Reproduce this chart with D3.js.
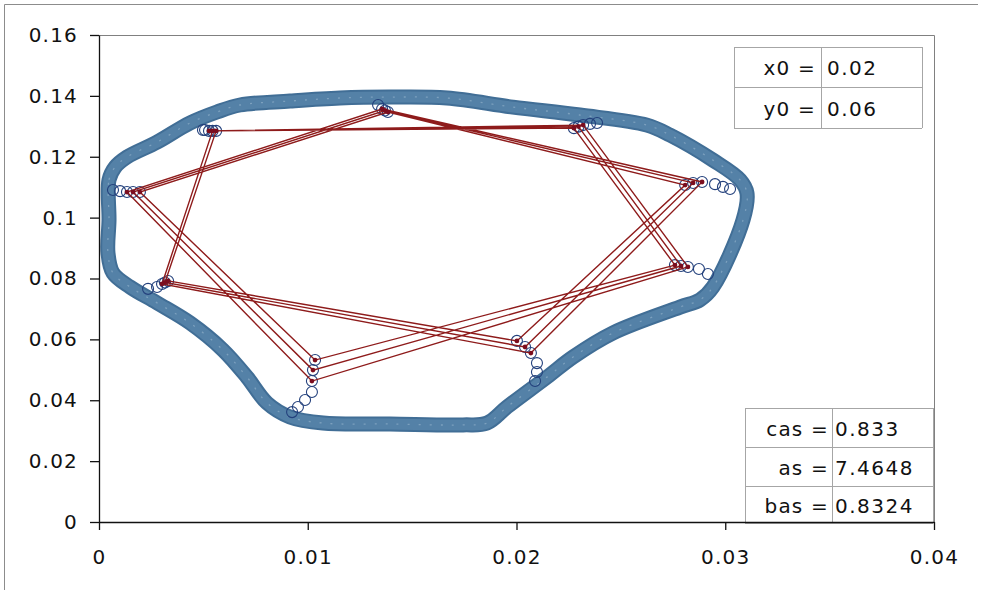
<!DOCTYPE html>
<html>
<head>
<meta charset="utf-8">
<script src="https://cdn.jsdelivr.net/npm/d3@7"></script>
<style>
  html, body { margin: 0; padding: 0; background: #fff; }
  svg { display: block; }
  text { font-family: "DejaVu Sans", Verdana, sans-serif; fill: #111; }
</style>
</head>
<body>
<svg id="chart" width="985" height="590"></svg>
<script>
// ---- data ----
const xTicks = [0, 0.01, 0.02, 0.03, 0.04];
const xTickLabels = ["0", "0.01", "0.02", "0.03", "0.04"];
const yTicks = [0, 0.02, 0.04, 0.06, 0.08, 0.1, 0.12, 0.14, 0.16];
const yTickLabels = ["0", "0.02", "0.04", "0.06", "0.08", "0.1", "0.12", "0.14", "0.16"];

// boundary ring (dense marker band), clockwise from the left side
const ringPoints = [
  [0.00048, 0.0992], [0.00048, 0.1124], [0.00077, 0.1166], [0.00134, 0.1199],
  [0.00278, 0.1248], [0.00436, 0.1311], [0.00565, 0.1347], [0.00675, 0.1370],
  [0.00915, 0.1383], [0.01154, 0.1393], [0.01394, 0.1396], [0.01667, 0.1393],
  [0.01983, 0.1363], [0.02304, 0.1337], [0.02625, 0.1304], [0.02736, 0.1271],
  [0.02941, 0.1189], [0.03071, 0.1124], [0.03104, 0.1081], [0.03085, 0.0992],
  [0.02941, 0.0772], [0.02879, 0.0730], [0.02783, 0.0706], [0.02462, 0.0621],
  [0.02271, 0.0542], [0.02146, 0.0476], [0.01955, 0.0378], [0.01859, 0.0325],
  [0.01744, 0.0319], [0.01394, 0.0322], [0.01073, 0.0325], [0.00915, 0.0345],
  [0.00805, 0.0391], [0.00709, 0.0476], [0.00594, 0.0565], [0.00436, 0.0654],
  [0.00278, 0.0720], [0.00149, 0.0772], [0.00067, 0.0818], [0.00043, 0.0884]
];

// earlier iterates drifting in from the ring (open circles only)
const trailPoints = [
  [0.00498, 0.1288], [0.00508, 0.1288],                       // top-left
  [0.01337, 0.1370],                                          // top
  [0.02386, 0.1311], [0.02352, 0.1308],                       // top-right
  [0.03023, 0.1094], [0.02989, 0.1101], [0.02951, 0.1110],    // right
  [0.02917, 0.0815], [0.02874, 0.0831],                       // lower right
  [0.02089, 0.0463], [0.02098, 0.0493], [0.02098, 0.0522],    // bottom right
  [0.00925, 0.0361], [0.00953, 0.0378], [0.00987, 0.0401], [0.01020, 0.0427], // bottom left
  [0.00235, 0.0766], [0.00278, 0.0772],                       // lower left
  [0.00067, 0.1091], [0.00101, 0.1087]                        // left
];

// last three laps of the 9-cycle, in visiting order
const cyclePath = [
  [0.00527, 0.1285], [0.02319, 0.1304], [0.02821, 0.0838], [0.01020, 0.0463], [0.00134, 0.1084],
  [0.01356, 0.1357], [0.02889, 0.1117], [0.02069, 0.0555], [0.00302, 0.0782],
  [0.00544, 0.1285], [0.02297, 0.1299], [0.02788, 0.0841], [0.01025, 0.0499], [0.00163, 0.1084],
  [0.01370, 0.1352], [0.02846, 0.1114], [0.02041, 0.0575], [0.00316, 0.0787],
  [0.00561, 0.1285], [0.02275, 0.1294], [0.02759, 0.0844], [0.01035, 0.0532], [0.00196, 0.1084],
  [0.01384, 0.1347], [0.02808, 0.1107], [0.02002, 0.0595], [0.00331, 0.0792]
];

const paramsTop = [["x0 =", "0.02"], ["y0 =", "0.06"]];
const paramsBottom = [["cas =", "0.833"], ["as =", "7.4648"], ["bas =", "0.8324"]];

// ---- layout ----
const svg = d3.select("#chart");
const plot = { left: 99, right: 934, top: 35, bottom: 522 };

const x = d3.scaleLinear().domain([0, 0.04]).range([plot.left, plot.right]);
const y = d3.scaleLinear().domain([0, 0.16]).range([plot.bottom, plot.top]);

// chart-area border (left and top edges visible)
svg.append("path")
  .attr("d", "M4.5,590 V4.5 H978")
  .attr("fill", "none").attr("stroke", "#8c8c8c").attr("stroke-width", 1);

// plot-area frame (top and right)
svg.append("path")
  .attr("d", `M${plot.left},${plot.top + 0.5} H${plot.right + 0.5} V${plot.bottom}`)
  .attr("fill", "none").attr("stroke", "#808080").attr("stroke-width", 1);

// ---- parameter boxes ----
function drawTable(rows, xs, ys, padL, padR) {
  const g = svg.append("g");
  const stroke = "#a6a6a6";
  ys.forEach(yy => g.append("line").attr("x1", xs[0]).attr("x2", xs[2])
    .attr("y1", yy + 0.5).attr("y2", yy + 0.5).attr("stroke", stroke));
  xs.forEach(xx => g.append("line").attr("x1", xx + 0.5).attr("x2", xx + 0.5)
    .attr("y1", ys[0]).attr("y2", ys[ys.length - 1]).attr("stroke", stroke));
  rows.forEach((r, i) => {
    const cy = (ys[i] + ys[i + 1]) / 2 + 1;
    g.append("text").attr("x", xs[1] - padL).attr("y", cy)
      .attr("text-anchor", "end").attr("dominant-baseline", "central")
      .style("font-size", "20px").style("letter-spacing", "1.2px").text(r[0]);
    g.append("text").attr("x", xs[1] + padR).attr("y", cy)
      .attr("dominant-baseline", "central")
      .style("font-size", "20px").style("letter-spacing", "1.5px").text(r[1]);
  });
}
drawTable(paramsTop, [734, 821, 922], [47, 87, 128], 5, 6);
drawTable(paramsBottom, [745, 832, 933], [408, 447, 486, 523], 3, 3);

// ---- series ----
const line = d3.line().x(d => x(d[0])).y(d => y(d[1]));

// ring drawn as a dense band of markers
const ringLine = d3.line().x(d => x(d[0])).y(d => y(d[1])).curve(d3.curveCatmullRomClosed);
svg.append("path").datum(ringPoints).attr("d", ringLine)
  .attr("fill", "none").attr("stroke", "#416e96").attr("stroke-width", 15)
  .attr("stroke-linejoin", "round");
svg.append("path").datum(ringPoints).attr("d", ringLine)
  .attr("fill", "none").attr("stroke", "#5481a7").attr("stroke-width", 11)
  .attr("stroke-linejoin", "round");
svg.append("path").datum(ringPoints).attr("d", ringLine)
  .attr("fill", "none").attr("stroke", "#a3bfd6").attr("stroke-width", 1.3)
  .attr("stroke-dasharray", "2,9").attr("opacity", 0.5);

// open-circle markers for every iterate
svg.append("g").selectAll("circle")
  .data(trailPoints.concat(cyclePath))
  .join("circle")
  .attr("cx", d => x(d[0])).attr("cy", d => y(d[1])).attr("r", 5.5)
  .attr("fill", "none").attr("stroke", "#23407c").attr("stroke-width", 1.1);

// connecting lines of the cycle
svg.append("path").datum(cyclePath).attr("d", line)
  .attr("fill", "none").attr("stroke", "#8e1b1b").attr("stroke-width", 1.4);

svg.append("g").selectAll("circle")
  .data(cyclePath)
  .join("circle")
  .attr("cx", d => x(d[0])).attr("cy", d => y(d[1])).attr("r", 2.4)
  .attr("fill", "#7b0d1e");

// ---- axes ----
const yAxis = svg.append("g").attr("transform", `translate(${plot.left},0)`)
  .call(d3.axisLeft(y).tickValues(yTicks).tickFormat((d, i) => yTickLabels[i])
    .tickSize(9).tickPadding(12).tickSizeOuter(0));
const xAxis = svg.append("g").attr("transform", `translate(0,${plot.bottom})`)
  .call(d3.axisBottom(x).tickValues(xTicks).tickFormat((d, i) => xTickLabels[i])
    .tickSize(8).tickPadding(20).tickSizeOuter(0));

[yAxis, xAxis].forEach(a => {
  a.select(".domain").attr("stroke", "#111").attr("stroke-width", 1.3);
  a.selectAll(".tick line").attr("stroke", "#111").attr("stroke-width", 1.3);
  a.selectAll(".tick text").style("font-size", "20px").style("letter-spacing", "1.2px")
    .attr("fill", "#111").style("font-family", "'DejaVu Sans', Verdana, sans-serif");
});
</script>
</body>
</html>
